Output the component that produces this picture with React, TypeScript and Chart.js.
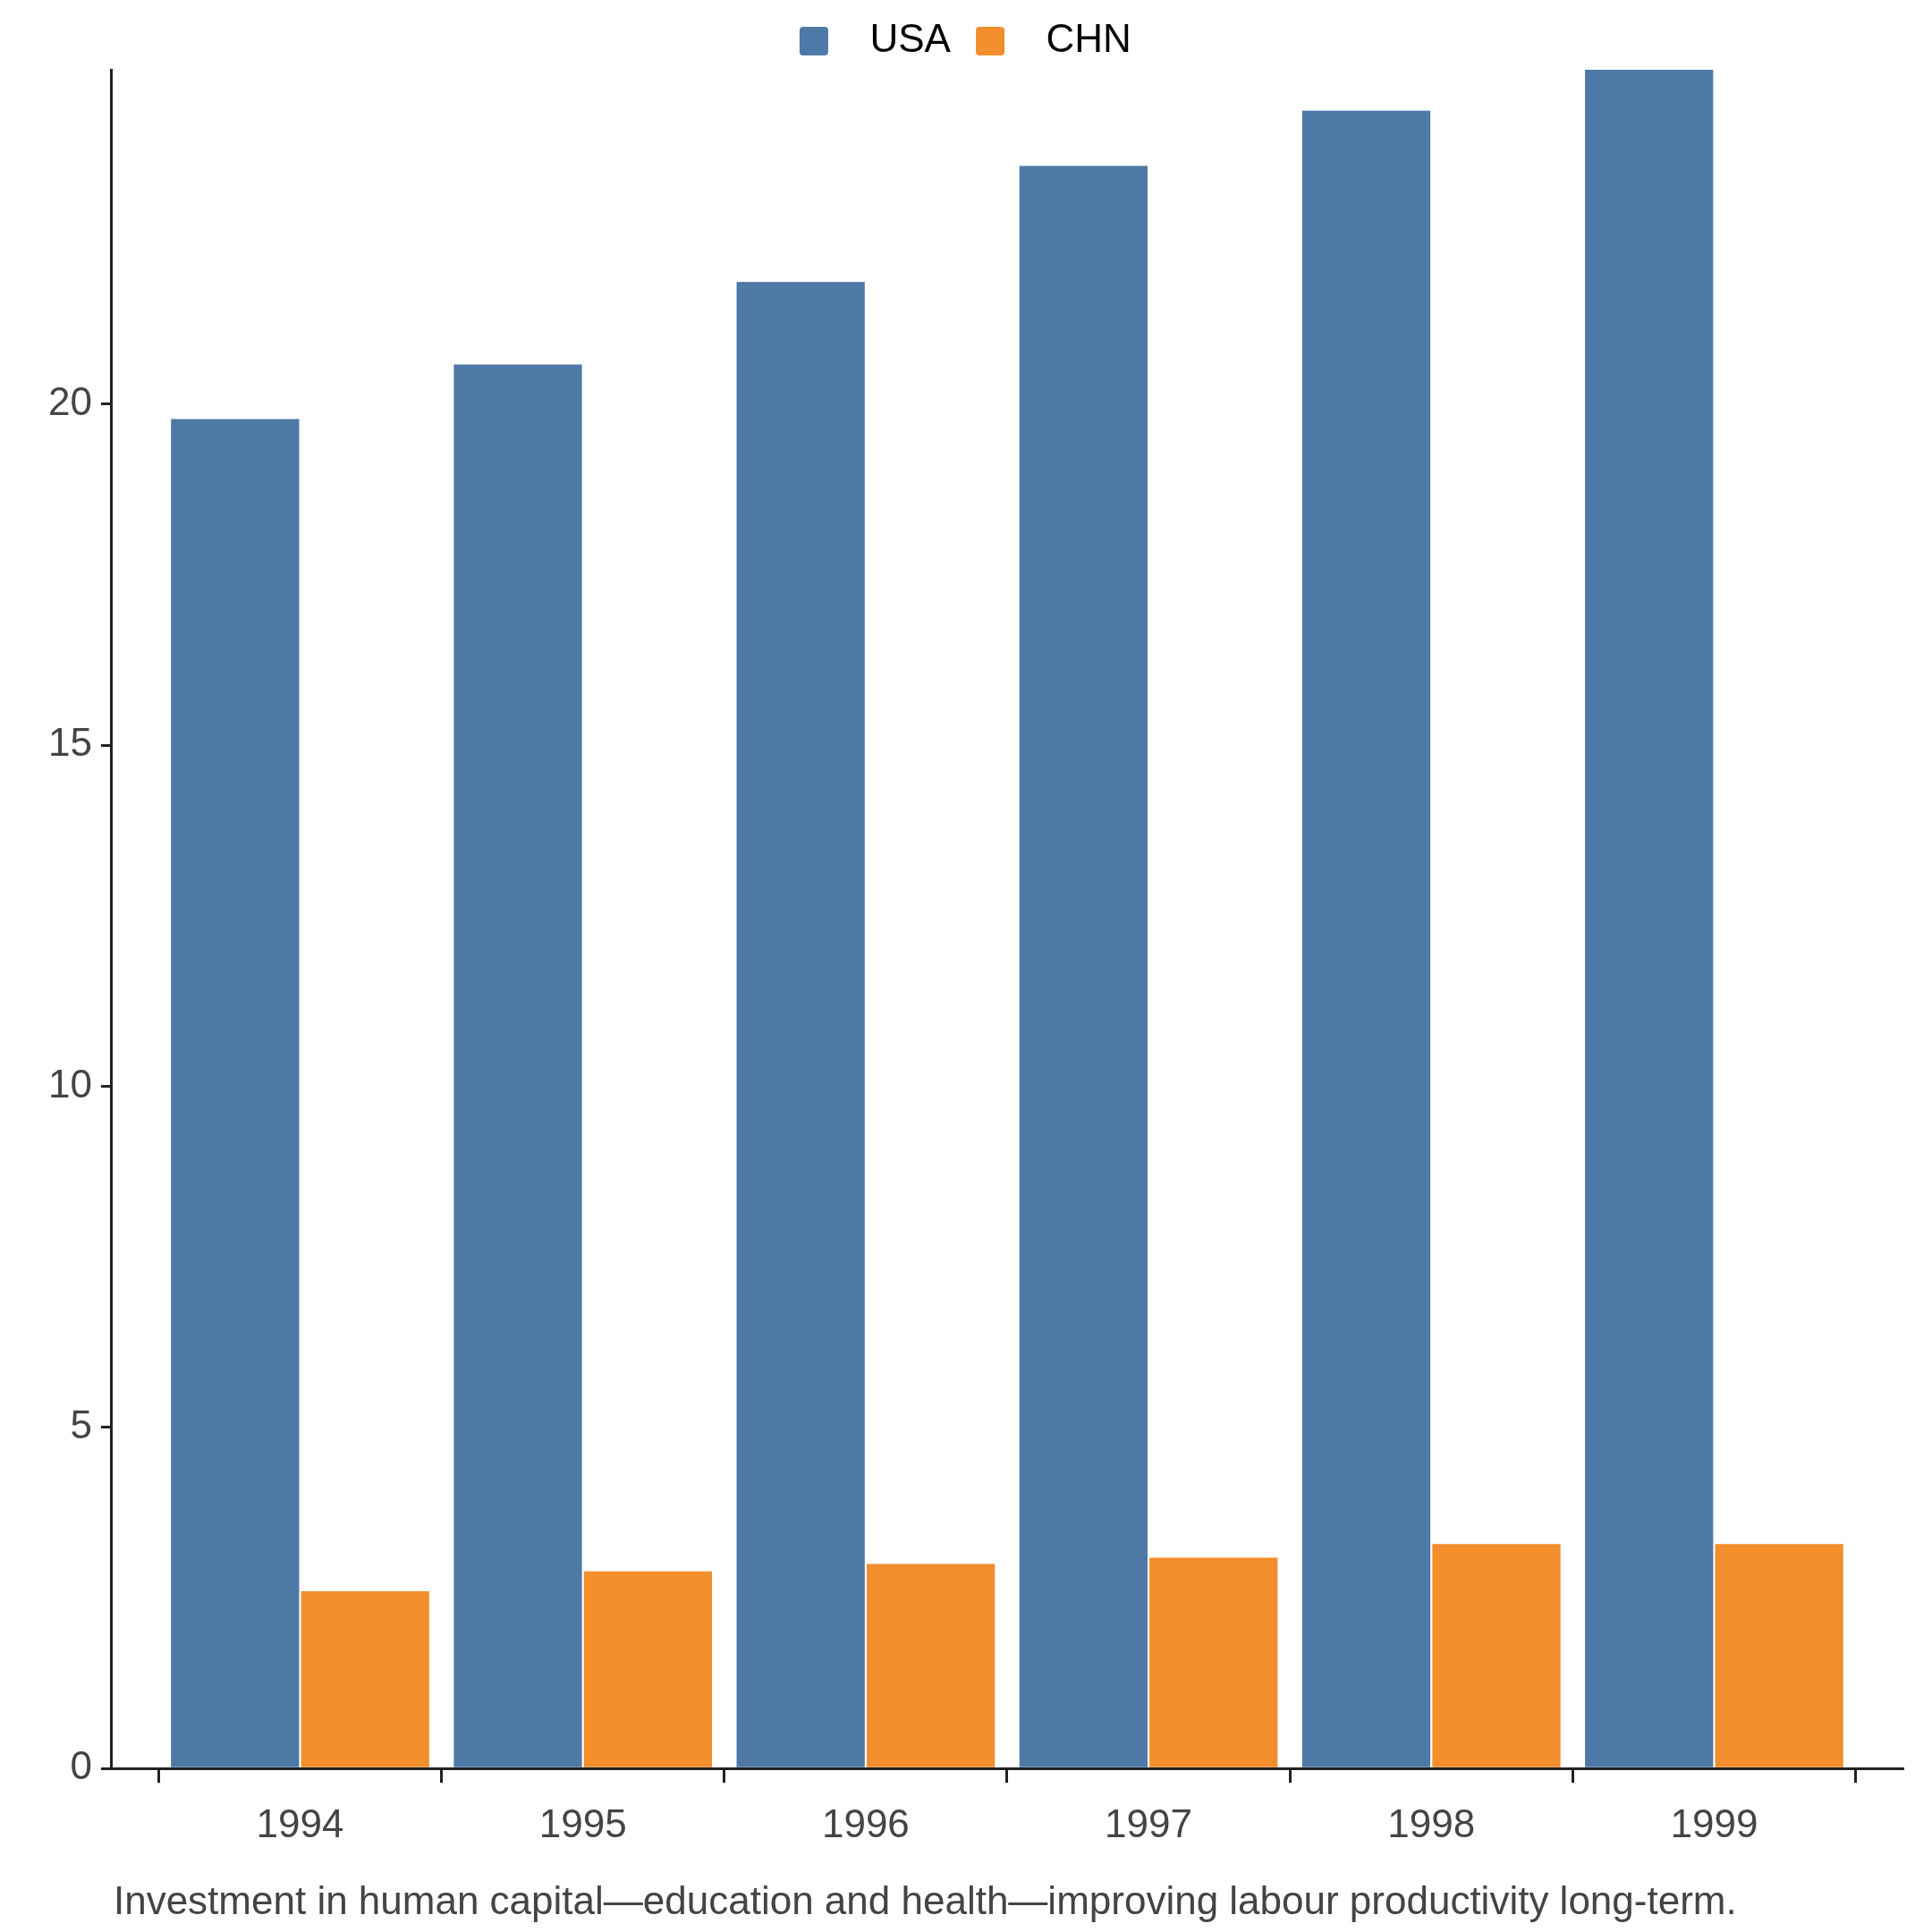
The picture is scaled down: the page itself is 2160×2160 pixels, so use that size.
import React, { useEffect, useRef } from "react";
import { Chart, registerables } from "chart.js";
Chart.register(...registerables);

const years = ["1994", "1995", "1996", "1997", "1998", "1999"];
const usa = [19.78, 20.58, 21.79, 23.49, 24.3, 24.9];
const chn = [2.6, 2.89, 3.0, 3.09, 3.29, 3.29];
const seriesNames = ["USA", "CHN"];
const colors = ["#4e79a7", "#f28e2b"];
const yTicks = [0, 5, 10, 15, 20];
const caption = "Investment in human capital\u2014education and health\u2014improving labour productivity long-term.";

const FONT = "'Liberation Sans', Arial, sans-serif";
const TXT = "#444";
const AX = "#222";

export default function App() {
  const ref = useRef<HTMLCanvasElement>(null);
  useEffect(() => {
    const captionPlugin = {
      id: "caption",
      afterDraw(chart: any) {
        const ctx = chart.ctx;
        ctx.save();
        ctx.font = `44px ${FONT}`;
        ctx.fillStyle = TXT;
        ctx.textBaseline = "alphabetic";
        ctx.textAlign = "left";
        ctx.fillText(caption, chart.chartArea.left + 2, chart.height - 12);
        ctx.restore();
      },
    };
    const chart = new Chart(ref.current!, {
      type: "bar",
      data: {
        datasets: [
          { label: seriesNames[0], data: usa.map((v, i) => ({ x: i, y: v })), backgroundColor: colors[0], xAxisID: "x" },
          { label: seriesNames[1], data: chn.map((v, i) => ({ x: i, y: v })), backgroundColor: colors[1], xAxisID: "x" },
        ],
      },
      options: {
        animation: false,
        responsive: true,
        maintainAspectRatio: false,
        layout: { padding: { left: 36, right: 25, bottom: 70, top: 0 } },
        datasets: { bar: { categoryPercentage: 0.92, barPercentage: 0.985 } } as any,
        plugins: {
          tooltip: { enabled: false },
          legend: {
            position: "top",
            labels: {
              font: { size: 44, family: FONT },
              color: "#222",
              boxWidth: 32,
              boxHeight: 32,
              padding: 16,
              generateLabels: (c: any) =>
                c.data.datasets.map((d: any, i: number) => ({
                  text: "  " + d.label + " ",
                  fillStyle: colors[i],
                  strokeStyle: colors[i],
                  lineWidth: 0,
                  borderRadius: 4,
                  datasetIndex: i,
                })),
            },
          },
        },
        scales: {
          x: {
            type: "linear",
            position: "bottom",
            min: -0.666,
            max: 5.666,
            offset: false,
            bounds: "data",
            afterBuildTicks: (s: any) => {
              s.ticks = [-0.5, 0.5, 1.5, 2.5, 3.5, 4.5, 5.5].map((v) => ({ value: v }));
            },
            ticks: { display: false },
            grid: { drawOnChartArea: false, tickLength: 16, lineWidth: 3, color: AX, offset: false } as any,
            border: { color: AX, width: 3 },
          },
          x2: {
            type: "linear",
            position: "bottom",
            min: -0.666,
            max: 5.666,
            offset: false,
            bounds: "data",
            afterBuildTicks: (s: any) => {
              s.ticks = years.map((_, i) => ({ value: i }));
            },
            ticks: {
              font: { size: 44, family: FONT },
              color: TXT,
              padding: 14,
              maxRotation: 0,
              autoSkip: false,
              callback: (v: any) => years[Math.round(Number(v))] ?? "",
            },
            grid: { display: false },
            border: { display: false },
          },
          y: {
            min: 0,
            max: 24.9,
            afterBuildTicks: (s: any) => {
              s.ticks = yTicks.map((v) => ({ value: v }));
            },
            ticks: { font: { size: 44, family: FONT }, color: TXT, padding: 10 },
            grid: { drawOnChartArea: false, tickLength: 12, color: AX, lineWidth: 3 },
            border: { color: AX, width: 3 },
          },
        },
      },
      plugins: [captionPlugin],
    });
    return () => chart.destroy();
  }, []);
  return (
    <div style={{ width: 2144, height: 2144, position: "relative" }}>
      <canvas ref={ref} />
    </div>
  );
}
